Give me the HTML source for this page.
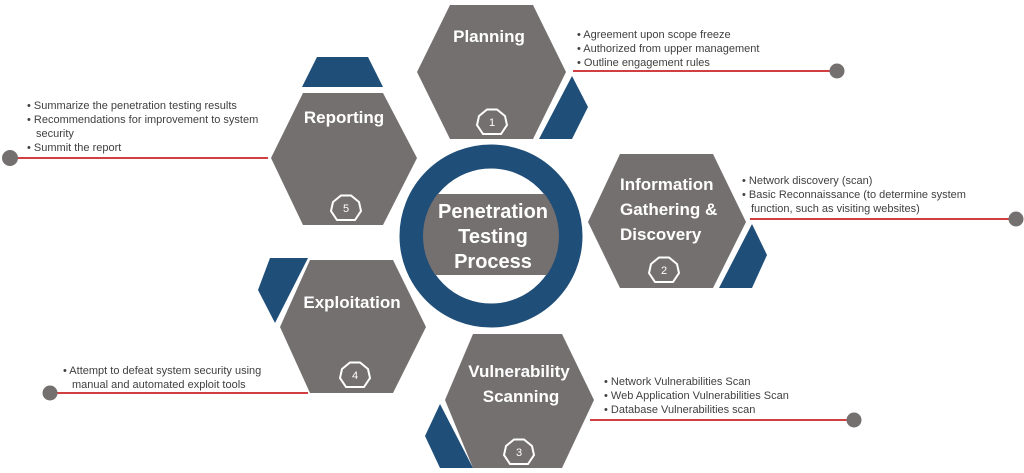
<!DOCTYPE html>
<html><head><meta charset="utf-8"><style>
html,body{margin:0;padding:0;background:#fff;}
svg{display:block;}
.t{font-family:"Liberation Sans",sans-serif;font-size:11px;fill:#404040;}
.h{font-family:"Liberation Sans",sans-serif;font-weight:bold;font-size:17px;fill:#fff;}
.c{font-family:"Liberation Sans",sans-serif;font-weight:bold;font-size:20px;fill:#fff;}
.n{font-family:"Liberation Sans",sans-serif;font-size:11px;fill:#fff;}
</style></head><body>
<svg width="1024" height="473" viewBox="0 0 1024 473" xmlns="http://www.w3.org/2000/svg">
<defs>
<polygon id="hp" points="-5,-12.5 5,-12.5 13,-6 15,3 9,12 -9,12 -15,3 -13,-6" fill="none" stroke="#fff" stroke-width="2"/>
<clipPath id="cp"><rect x="420" y="194" width="145" height="81"/></clipPath>
</defs>
<g fill="#757070">
<polygon points="450,5 533,5 566,72 533,139 450,139 417,72"/>
<polygon points="303,93 383,93 417,158 383,225 303,225 271,158"/>
<polygon points="620,154 713,154 746,222 713,288 620,288 588,222"/>
<polygon points="310,260 393,260 426,327 393,393 310,393 280,327"/>
<polygon points="473,334 562,334 594,400 562,468 473,468 445,400"/>
</g>
<g fill="#1f4e79">
<polygon points="572,76 588,107 572,139 539,139"/>
<polygon points="317,57 368,57 383,87 302,87"/>
<polygon points="752,224 767,255 752,288 719,288"/>
<polygon points="270,258 308,258 275,323 258,290"/>
<polygon points="440,404 473,468 440,468 425,436"/>
</g>
<circle cx="491" cy="236" r="79.5" fill="none" stroke="#1f4e79" stroke-width="24"/>
<circle cx="491" cy="236" r="68" fill="#757070" clip-path="url(#cp)"/>
<text class="c" x="493" y="218" text-anchor="middle">Penetration</text>
<text class="c" x="493" y="243" text-anchor="middle">Testing</text>
<text class="c" x="493" y="268" text-anchor="middle">Process</text>
<text class="h" x="489" y="42" text-anchor="middle">Planning</text>
<text class="h" x="344" y="123" text-anchor="middle">Reporting</text>
<text class="h" x="620" y="190">Information</text>
<text class="h" x="620" y="215">Gathering &amp;</text>
<text class="h" x="620" y="240">Discovery</text>
<text class="h" x="352" y="308" text-anchor="middle">Exploitation</text>
<text class="h" x="519" y="377" text-anchor="middle">Vulnerability</text>
<text class="h" x="521" y="402" text-anchor="middle">Scanning</text>
<use href="#hp" x="492" y="122"/>
<use href="#hp" x="346" y="208"/>
<use href="#hp" x="664" y="270"/>
<use href="#hp" x="355" y="375"/>
<use href="#hp" x="519" y="452"/>
<text class="n" x="492" y="126" text-anchor="middle">1</text>
<text class="n" x="346" y="212" text-anchor="middle">5</text>
<text class="n" x="664" y="274" text-anchor="middle">2</text>
<text class="n" x="355" y="379" text-anchor="middle">4</text>
<text class="n" x="519" y="456" text-anchor="middle">3</text>
<g stroke="#c00000" stroke-width="1.5">
<line x1="573" y1="71" x2="832" y2="71"/>
<line x1="17" y1="158" x2="268" y2="158"/>
<line x1="750" y1="219" x2="1010" y2="219"/>
<line x1="57" y1="393" x2="308" y2="393"/>
<line x1="590" y1="420" x2="848" y2="420"/>
</g>
<g fill="#757070">
<circle cx="837" cy="71" r="7.5"/>
<circle cx="10" cy="158" r="8"/>
<circle cx="1016" cy="219" r="7.5"/>
<circle cx="50" cy="393" r="7.5"/>
<circle cx="854" cy="420" r="7.5"/>
</g>
<text class="t" x="577" y="38">• Agreement upon scope freeze</text>
<text class="t" x="577" y="52">• Authorized from upper management</text>
<text class="t" x="577" y="66">• Outline engagement rules</text>
<text class="t" x="27" y="109">• Summarize the penetration testing  results</text>
<text class="t" x="27" y="123">• Recommendations for improvement to system</text>
<text class="t" x="36" y="137">security</text>
<text class="t" x="27" y="151">• Summit the report</text>
<text class="t" x="742" y="184">• Network discovery (scan)</text>
<text class="t" x="742" y="198">• Basic  Reconnaissance  (to  determine  system</text>
<text class="t" x="751" y="212">function, such as visiting websites)</text>
<text class="t" x="63" y="374">• Attempt to defeat system security using</text>
<text class="t" x="72" y="388">manual and automated exploit tools</text>
<text class="t" x="604" y="385">• Network Vulnerabilities Scan</text>
<text class="t" x="604" y="399">• Web Application Vulnerabilities Scan</text>
<text class="t" x="604" y="413">• Database Vulnerabilities scan</text>
</svg>
</body></html>
